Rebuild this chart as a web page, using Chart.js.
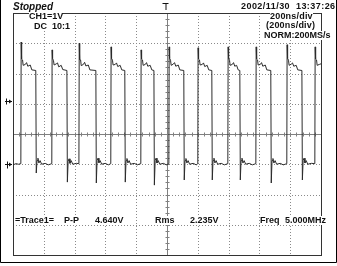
<!DOCTYPE html>
<html>
<head>
<meta charset="utf-8">
<script src="https://cdn.jsdelivr.net/npm/chart.js@4"></script>
<style>
  html, body { margin: 0; padding: 0; background: #fff; }
  #wrap { position: relative; width: 337px; height: 266px; overflow: hidden; }
  #scope { position: absolute; left: 0; top: 0; }
  .lbl { position: absolute; font-family: "Liberation Sans", Arial, sans-serif; font-size: 9px; font-weight: bold;
         color: #111; white-space: pre; line-height: 1; background: #fff; }
</style>
</head>
<body>
<div id="wrap">
  <canvas id="scope" width="337" height="266"></canvas>
  <div class="lbl" style="left:13px;top:2px;font-size:10px;font-style:italic;background:none">Stopped</div>
  <div class="lbl" style="left:29px;top:12px">CH1=1V</div>
  <div class="lbl" style="left:34px;top:22px">DC  10:1</div>
  <div class="lbl" style="left:241px;top:2px;letter-spacing:0.45px;background:none">2002/11/30  13:37:26</div>
  <div class="lbl" style="left:270px;top:12px;letter-spacing:0.2px">200ns/div</div>
  <div class="lbl" style="left:266px;top:21px;letter-spacing:0.2px">(200ns/div)</div>
  <div class="lbl" style="left:264px;top:31px">NORM:200MS/s</div>
  <div class="lbl" style="left:15px;top:216px">=Trace1=</div>
  <div class="lbl" style="left:64px;top:216px">P-P</div>
  <div class="lbl" style="left:95px;top:216px">4.640V</div>
  <div class="lbl" style="left:155px;top:216px">Rms</div>
  <div class="lbl" style="left:190px;top:216px">2.235V</div>
  <div class="lbl" style="left:260px;top:216px">Freq</div>
  <div class="lbl" style="left:285px;top:216px">5.000MHz</div>
</div>
<script>
// 屏幕刻度：10 格 x 200ns，8 格 x 1V（地电平在中心下方一格）
const timeMin = 0;
const timeMax = 2000;
const voltMin = -3;
const voltMax = 5;
const timeDivs = 10;
const voltDivs = 8;

// 波形采样点（从截图读取），时间单位 ns，电压单位 V
const traceNs = [
  0, 20, 35,
  51, 53, 56, 62, 66, 80, 88, 96, 112, 122, 148, 151, 156, 162, 168, 176, 186, 209, 229,
  252, 254, 257, 263, 267, 281, 289, 297, 313, 323, 350, 353, 358, 364, 370, 378, 388, 411,
  428, 430, 433, 439, 443, 457, 465, 473, 489, 499, 538, 541, 546, 552, 558, 566, 576, 599, 619,
  635, 637, 640, 646, 650, 664, 672, 680, 696, 706, 726, 729, 734, 740, 746, 754, 764, 787, 807,
  830, 832, 835, 841, 845, 859, 867, 875, 891, 901, 915, 918, 923, 929, 935, 943, 953, 976, 996,
  1012, 1014, 1017, 1023, 1027, 1041, 1049, 1057, 1073, 1083, 1109, 1112, 1117, 1123, 1129, 1137, 1147, 1170, 1190,
  1200, 1202, 1205, 1211, 1215, 1229, 1237, 1245, 1261, 1271, 1291, 1294, 1299, 1305, 1311, 1319, 1329, 1352, 1372,
  1395, 1397, 1400, 1406, 1410, 1424, 1432, 1440, 1452, 1462, 1473, 1476, 1481, 1487, 1493, 1501, 1511, 1534, 1554,
  1577, 1579, 1582, 1588, 1592, 1606, 1614, 1622, 1638, 1648, 1674, 1677, 1682, 1688, 1694, 1702, 1712, 1735, 1755,
  1778, 1780, 1783, 1789, 1793, 1807, 1815, 1823, 1839, 1849, 1876, 1879, 1884, 1890, 1896, 1904, 1914, 1937,
  1960, 1962, 1965, 1971, 1975, 1989, 2000
];
const traceVolts = [
  -0.02, 0.02, 0.0,
  0.02, 4.04, 3.48, 3.45, 3.27, 3.30, 3.36, 3.24, 3.28, 3.12, 3.10, -0.29, 0.12, 0.20, 0.04, 0.12, 0.00, 0.03, -0.02,
  0.02, 3.78, 3.50, 3.42, 3.28, 3.32, 3.35, 3.22, 3.27, 3.13, 3.10, -0.59, 0.10, 0.18, 0.03, 0.12, 0.00, 0.03,
  0.02, 4.00, 3.46, 3.45, 3.26, 3.30, 3.37, 3.25, 3.28, 3.12, 3.10, -0.62, 0.13, 0.20, 0.05, 0.12, 0.00, 0.03, -0.02,
  0.02, 3.88, 3.50, 3.44, 3.28, 3.30, 3.35, 3.23, 3.27, 3.12, 3.10, -0.59, 0.12, 0.19, 0.04, 0.12, 0.00, 0.03, -0.02,
  0.02, 3.78, 3.48, 3.45, 3.27, 3.30, 3.36, 3.24, 3.27, 3.12, 3.10, -0.69, 0.12, 0.20, 0.04, 0.12, 0.00, 0.03, -0.02,
  0.02, 3.88, 3.50, 3.44, 3.27, 3.31, 3.36, 3.24, 3.28, 3.12, 3.10, -0.52, 0.12, 0.19, 0.04, 0.12, 0.00, 0.03, -0.02,
  0.02, 3.85, 3.48, 3.45, 3.28, 3.30, 3.35, 3.23, 3.27, 3.12, 3.10, -0.52, 0.12, 0.20, 0.04, 0.12, 0.00, 0.03, -0.02,
  0.02, 3.88, 3.50, 3.44, 3.27, 3.30, 3.36, 3.24, 3.27, 3.12, 3.10, -0.52, 0.12, 0.20, 0.04, 0.12, 0.00, 0.03, -0.02,
  0.02, 3.88, 3.48, 3.45, 3.28, 3.30, 3.36, 3.24, 3.28, 3.12, 3.10, -0.62, 0.12, 0.19, 0.04, 0.12, 0.00, 0.03, -0.02,
  0.02, 3.95, 3.50, 3.44, 3.27, 3.31, 3.35, 3.24, 3.27, 3.12, 3.10, -0.52, 0.12, 0.20, 0.04, 0.12, 0.00, 0.03,
  0.02, 3.88, 3.48, 3.45, 3.27, 3.30, 3.32
];

// 网格、中心刻度和外框
const scopeGrid = {
  id: 'scopeGrid',
  beforeDatasetsDraw(chart) {
    const { ctx, chartArea: a, scales: { x, y } } = chart;
    const tStep = (timeMax - timeMin) / timeDivs;
    const vStep = (voltMax - voltMin) / voltDivs;
    ctx.save();
    ctx.lineWidth = 1;
    ctx.strokeStyle = '#8a8a8a';
    ctx.setLineDash([1, 2]);
    for (let i = 1; i < timeDivs; i++) {
      const px = Math.round(x.getPixelForValue(timeMin + i * tStep)) + 0.5;
      ctx.beginPath(); ctx.moveTo(px, a.top); ctx.lineTo(px, a.bottom); ctx.stroke();
    }
    for (let i = 1; i < voltDivs; i++) {
      const py = Math.round(y.getPixelForValue(voltMin + i * vStep)) + 0.5;
      ctx.beginPath(); ctx.moveTo(a.left, py); ctx.lineTo(a.right, py); ctx.stroke();
    }
    ctx.setLineDash([]);
    // 中心线上的小刻度
    const cx = Math.round(x.getPixelForValue((timeMin + timeMax) / 2)) + 0.5;
    const cy = Math.round(y.getPixelForValue((voltMin + voltMax) / 2)) + 0.5;
    ctx.strokeStyle = '#808080';
    for (let i = 1; i < timeDivs * 5; i++) {
      const px = Math.round(x.getPixelForValue(timeMin + i * tStep / 5)) + 0.5;
      ctx.beginPath(); ctx.moveTo(px, cy - 2); ctx.lineTo(px, cy + 2); ctx.stroke();
    }
    for (let i = 1; i < voltDivs * 5; i++) {
      const py = Math.round(y.getPixelForValue(voltMin + i * vStep / 5)) + 0.5;
      ctx.beginPath(); ctx.moveTo(cx - 2, py); ctx.lineTo(cx + 2, py); ctx.stroke();
    }
    ctx.beginPath(); ctx.moveTo(a.left, cy); ctx.lineTo(a.right, cy); ctx.stroke();
    ctx.beginPath(); ctx.moveTo(cx, a.top); ctx.lineTo(cx, a.bottom); ctx.stroke();
    // 外框
    ctx.strokeStyle = '#333';
    ctx.strokeRect(a.left + 0.5, a.top + 0.5, a.right - a.left, a.bottom - a.top);
    // 触发电平与地电平标记（左侧），触发位置标记（顶部）
    ctx.strokeStyle = '#111';
    ctx.fillStyle = '#111';
    const ty = Math.round(y.getPixelForValue(2.1)) + 0.5;
    ctx.beginPath(); ctx.moveTo(5, ty); ctx.lineTo(12, ty); ctx.moveTo(6.5, ty - 3); ctx.lineTo(6.5, ty + 3); ctx.stroke();
    ctx.beginPath(); ctx.moveTo(12, ty); ctx.lineTo(9, ty - 2); ctx.lineTo(9, ty + 2); ctx.closePath(); ctx.fill();
    const gy = Math.round(y.getPixelForValue(0)) + 0.5;
    ctx.beginPath(); ctx.moveTo(5, gy); ctx.lineTo(12, gy); ctx.moveTo(7.5, gy - 3); ctx.lineTo(7.5, gy + 4); ctx.stroke();
    ctx.beginPath(); ctx.moveTo(12, gy); ctx.lineTo(9, gy - 2); ctx.lineTo(9, gy + 2); ctx.closePath(); ctx.fill();
    const tx = Math.round(x.getPixelForValue((timeMin + timeMax) / 2)) - 1.5;
    ctx.beginPath(); ctx.moveTo(tx - 3, 3.5); ctx.lineTo(tx + 3, 3.5); ctx.moveTo(tx + 0.5, 3.5); ctx.lineTo(tx + 0.5, 10); ctx.stroke();
    ctx.restore();
  },
  afterDraw(chart) {
    const { ctx, width, height } = chart;
    ctx.save();
    ctx.strokeStyle = '#000';
    ctx.lineWidth = 1;
    ctx.beginPath();
    ctx.moveTo(0.5, 0); ctx.lineTo(0.5, height - 3.5); ctx.lineTo(width - 0.5, height - 3.5); ctx.lineTo(width - 0.5, 0);
    ctx.stroke();
    ctx.restore();
  }
};

const tracePoints = traceNs.map((t, i) => ({ x: t, y: traceVolts[i] }));

new Chart(document.getElementById('scope'), {
  type: 'line',
  data: {
    datasets: [{
      data: tracePoints,
      borderColor: '#2b2b2b',
      borderWidth: 1,
      pointRadius: 0,
      tension: 0,
      fill: false
    }]
  },
  options: {
    responsive: false,
    animation: false,
    events: [],
    layout: { padding: { left: 13, top: 13, right: 16, bottom: 11 } },
    plugins: { legend: { display: false }, tooltip: { enabled: false }, title: { display: false } },
    scales: {
      x: { type: 'linear', min: timeMin, max: timeMax, display: false },
      y: { type: 'linear', min: voltMin, max: voltMax, display: false }
    }
  },
  plugins: [scopeGrid]
});
</script>
</body>
</html>
